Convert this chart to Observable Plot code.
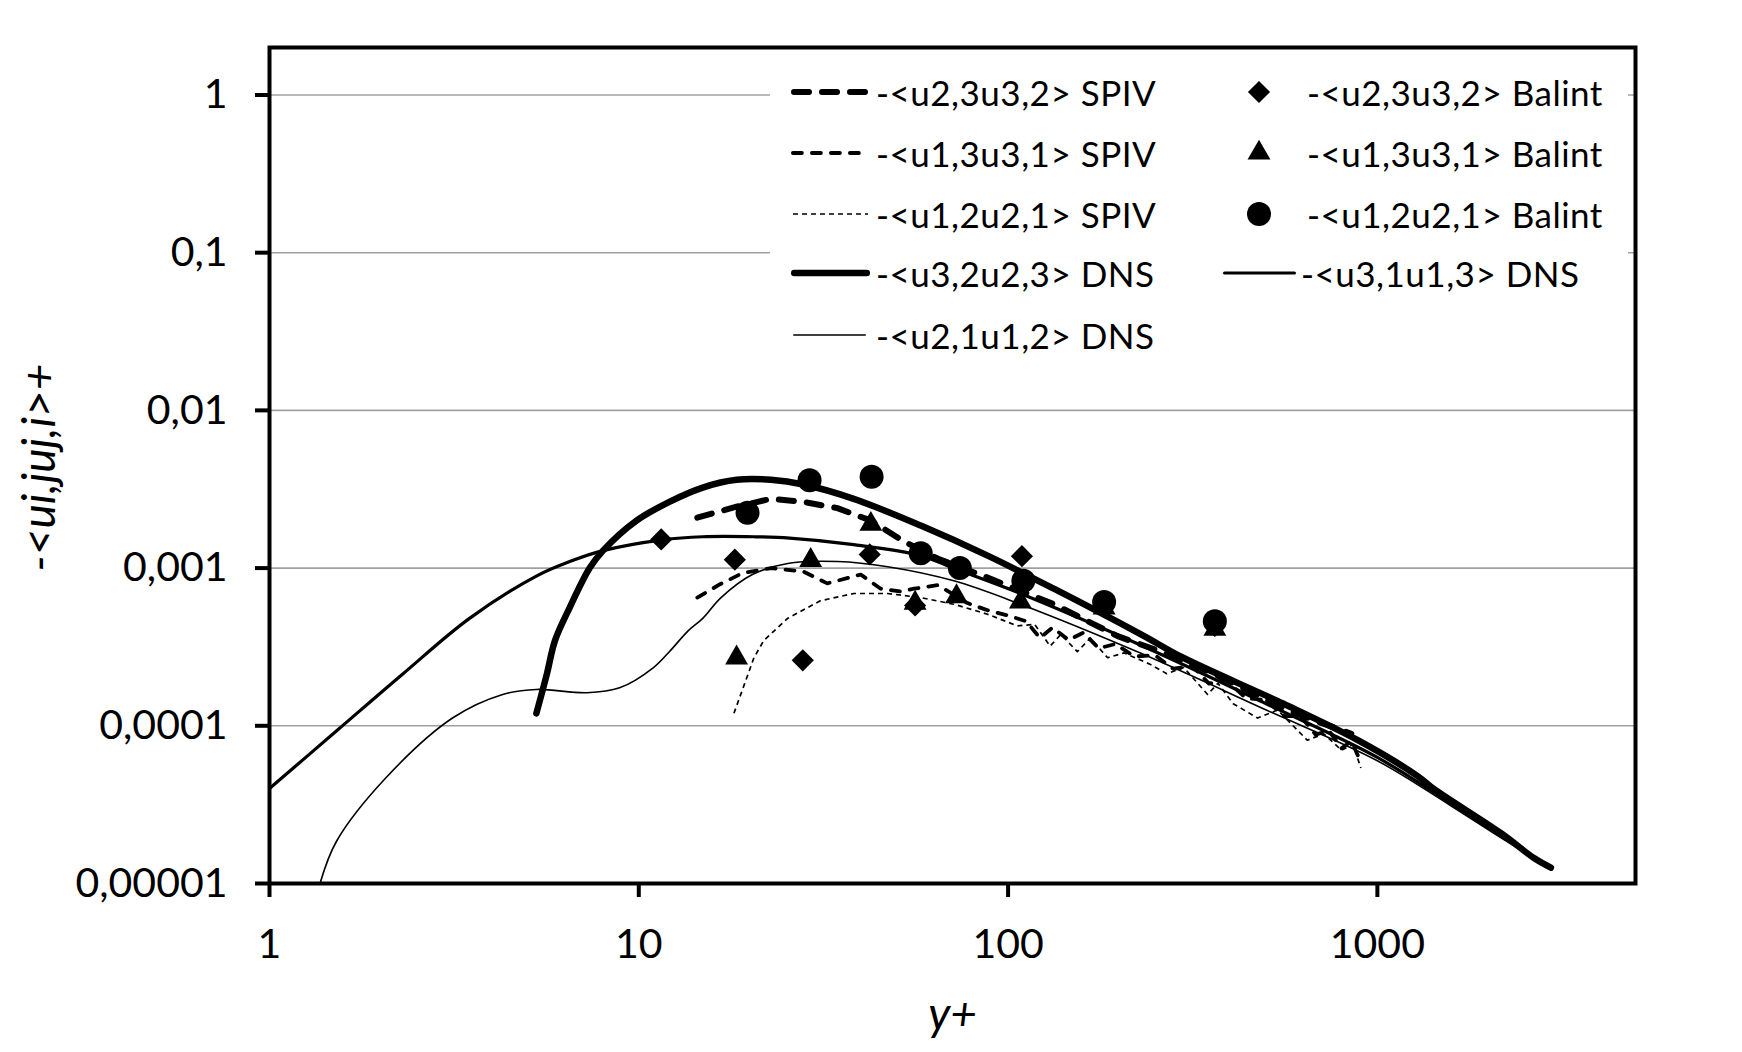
<!DOCTYPE html>
<html><head><meta charset="utf-8">
<script src="https://cdn.jsdelivr.net/npm/d3@7"></script>
<script src="https://cdn.jsdelivr.net/npm/@observablehq/plot@0.6"></script>
<style>
html,body{margin:0;padding:0;background:#fff;overflow:hidden}
#wrap{position:relative;width:1742px;height:1052px}
#legendbox{position:absolute;left:770px;top:62px;width:858px;height:300px;background:#fff}
.item{position:absolute;font-family:Lato,sans-serif;font-size:35px;letter-spacing:0.5px;line-height:1;white-space:nowrap;transform:translateY(-50%);color:#000}
.sample{position:absolute;transform:translateY(-50%)}
</style></head>
<body><div id="wrap"></div>
<script>
// ---- ticks ----
const xTicks = [1, 10, 100, 1000];
const xTickLabels = ["1", "10", "100", "1000"];
const yTicks = [1e-5, 1e-4, 1e-3, 1e-2, 1e-1, 1];
const yTickLabels = ["0,00001", "0,0001", "0,001", "0,01", "0,1", "1"];
const xTitle = "y+";
const yTitle = "-<ui,juj,i>+";

// ---- series: [y+, value] ----
const spivU23 = [[14.4,2.09e-3],[18.4,2.45e-3],[22.8,2.75e-3],[27.9,2.63e-3],[34.5,2.40e-3],[42.5,2.0e-3],[52.1,1.48e-3],[64.4,1.15e-3],[88,8.7e-4],[133,5.9e-4],[198,3.7e-4],[260,2.95e-4],[331,2.34e-4],[420,1.8e-4],[557,1.29e-4],[700,1.05e-4],[850,8.9e-5]];
const spivU13 = [[14.4,6.5e-4],[16.6,7.9e-4],[19.1,9.3e-4],[22.8,1.0e-3],[27.9,9.5e-4],[32.4,8.0e-4],[39.9,9.1e-4],[45.2,7.4e-4],[51.2,7.1e-4],[55.6,7.4e-4],[64.6,7.8e-4],[77.6,6.0e-4],[88,5.4e-4],[100,5.0e-4],[112,4.6e-4],[122,3.6e-4],[132,4.2e-4],[146,3.5e-4],[160,3.9e-4],[176,3.1e-4],[195,3.3e-4],[220,2.75e-4],[250,2.8e-4],[280,2.3e-4],[315,2.4e-4],[350,1.85e-4],[390,1.95e-4],[440,1.5e-4],[500,1.45e-4],[560,1.15e-4],[620,1.15e-4],[680,8.8e-5],[740,9.3e-5],[800,7.2e-5],[850,8.0e-5],[885,6.5e-5]];
const spivU12 = [[18.1,1.2e-4],[20.5,2.7e-4],[21.8,3.47e-4],[25.3,4.8e-4],[31.0,6.2e-4],[38.2,6.9e-4],[47.2,6.9e-4],[58,6.5e-4],[71.3,5.9e-4],[88,5.1e-4],[106,4.3e-4],[118,4.4e-4],[130,3.2e-4],[139,3.8e-4],[154,2.95e-4],[167,3.6e-4],[186,2.7e-4],[206,2.9e-4],[243,2.45e-4],[269,2.14e-4],[299,2.34e-4],[347,1.58e-4],[370,1.86e-4],[407,1.38e-4],[474,1.12e-4],[537,1.26e-4],[646,8.1e-5],[716,8.9e-5],[800,7.0e-5],[860,7.6e-5],[902,5.4e-5]];
const dnsU32 = [[5.28,1.20e-4],[5.64,2.14e-4],[5.93,3.47e-4],[6.50,5.62e-4],[7.36,1.00e-3],[8.0,1.29e-3],[9.86,2.0e-3],[12.1,2.63e-3],[14.9,3.24e-3],[18.4,3.63e-3],[22.8,3.63e-3],[27.9,3.39e-3],[38.2,2.75e-3],[58,1.86e-3],[88,1.20e-3],[133,7.4e-4],[229,3.8e-4],[299,2.69e-4],[557,1.38e-4],[885,8.1e-5],[1285,4.8e-5],[1422,3.98e-5],[2158,2.09e-5],[2655,1.45e-5],[2950,1.26e-5]];
const dnsU31 = [[1,4.0e-5],[1.52,9.3e-5],[2.30,2.14e-4],[3.48,4.8e-4],[5.28,8.9e-4],[6.50,1.10e-3],[8.0,1.29e-3],[11.6,1.51e-3],[14.9,1.58e-3],[20.5,1.58e-3],[25.6,1.55e-3],[38.2,1.41e-3],[58,1.20e-3],[71,1.0e-3],[108,6.9e-4],[229,3.24e-4],[500,1.38e-4],[1000,6.3e-5],[1585,3.2e-5],[2239,1.9e-5],[2950,1.26e-5]];
const dnsU21 = [[1.37,1.0e-5],[1.52,1.86e-5],[2.07,4.7e-5],[3.13,1.12e-4],[4.28,1.58e-4],[5.28,1.70e-4],[7.23,1.62e-4],[8.87,1.74e-4],[10.96,2.34e-4],[12.1,2.95e-4],[13.6,4.0e-4],[14.9,4.8e-4],[16.7,6.5e-4],[20.3,9.1e-4],[25.3,1.07e-3],[34.5,1.10e-3],[47.2,1.02e-3],[71.3,8.3e-4],[108,5.9e-4],[229,2.88e-4],[500,1.26e-4],[1000,6.0e-5],[1585,3.1e-5],[2239,1.85e-5],[2950,1.26e-5]];
const balintU23 = [[11.5,1.52e-3],[18.2,1.13e-3],[27.8,2.6e-4],[42.2,1.22e-3],[56,5.8e-4],[109,1.19e-3],[182,5.9e-4],[363,4.3e-4]];
const balintU13 = [[18.4,2.7e-4],[29.2,1.12e-3],[42.5,1.9e-3],[56,6.0e-4],[72.5,6.6e-4],[108,6.1e-4],[182,5.6e-4],[363,4.1e-4]];
const balintU12 = [[19.7,2.24e-3],[29,3.6e-3],[42.7,3.8e-3],[58,1.24e-3],[74,1.0e-3],[110,8.3e-4],[182,6.1e-4],[363,4.6e-4]];

const labels = {
  spivU23: "-<u2,3u3,2> SPIV", spivU13: "-<u1,3u3,1> SPIV", spivU12: "-<u1,2u2,1> SPIV",
  dnsU32: "-<u3,2u2,3> DNS", dnsU31: "-<u3,1u1,3> DNS", dnsU21: "-<u2,1u1,2> DNS",
  balintU23: "-<u2,3u3,2> Balint", balintU13: "-<u1,3u3,1> Balint", balintU12: "-<u1,2u2,1> Balint"
};

// ---- styles ----
const lineStyles = {
  dnsU32: {strokeWidth: 6.5, dash: null, cap: "round", curve: "catmull-rom"},
  dnsU31: {strokeWidth: 3.2, dash: null, cap: "round", curve: "catmull-rom"},
  dnsU21: {strokeWidth: 1.6, dash: null, cap: "round", curve: "catmull-rom"},
  spivU23: {strokeWidth: 6, dash: "15,13", cap: "round", curve: "linear"},
  spivU13: {strokeWidth: 3.8, dash: "9,10", cap: "round", curve: "linear"},
  spivU12: {strokeWidth: 1.7, dash: "5,4", cap: "butt", curve: "linear"}
};
const series = {spivU23, spivU13, spivU12, dnsU32, dnsU31, dnsU21};
const dotStyles = {
  balintU23: {symbol: "diamond2", r: 10},
  balintU13: {symbol: "triangle", r: 8.5},
  balintU12: {symbol: "circle", r: 12}
};
const dots = {balintU23, balintU13, balintU12};

const lineOrder = ["dnsU21", "dnsU31", "dnsU32", "spivU12", "spivU13", "spivU23"];
const lineMarks = lineOrder.map(k => {
  const s = lineStyles[k];
  return Plot.line(series[k], {
    x: d => d[0], y: d => d[1], stroke: "black", strokeWidth: s.strokeWidth,
    strokeDasharray: s.dash || undefined, strokeLinecap: s.cap, strokeLinejoin: "round",
    curve: s.curve, clip: true
  });
});
const dotMarks = Object.keys(dots).map(k => Plot.dot(dots[k], {
  x: d => d[0], y: d => d[1], symbol: dotStyles[k].symbol, r: dotStyles[k].r, fill: "black", stroke: "none"
}));

const chart = Plot.plot({
  width: 1742, height: 1052,
  marginLeft: 269, marginTop: 47, marginRight: 107, marginBottom: 169,
  x: {type: "log", domain: [1, 5000]},
  y: {type: "log", domain: [1e-5, 2]},
  style: {fontFamily: "Lato, sans-serif", background: "white", color: "black"},
  marks: [
    Plot.ruleY(yTicks, {stroke: "#a0a0a0", strokeWidth: 1.6}),
    ...lineMarks,
    ...dotMarks,
    Plot.frame({stroke: "black", strokeWidth: 4}),
    Plot.axisX({ticks: xTicks, tickFormat: d => xTickLabels[xTicks.indexOf(d)], tickSize: 14, tickPadding: 31, fontSize: 41, strokeWidth: 4, label: null}),
    Plot.axisY({ticks: yTicks, tickFormat: d => yTickLabels[yTicks.indexOf(d)], tickSize: 14, tickPadding: 28, fontSize: 41, strokeWidth: 4, label: null}),
    Plot.text([xTitle], {text: d => d, frameAnchor: "bottom", dy: 146, fontSize: 46, fontStyle: "italic"}),
    Plot.text([yTitle], {text: d => d, frameAnchor: "left", textAnchor: "middle", dx: -229, dy: 2, rotate: -90, fontSize: 46, fontStyle: "italic"})
  ]
});
const wrap = document.getElementById("wrap");
wrap.appendChild(chart);

// ---- legend (HTML overlay) ----
const box = document.createElement("div"); box.id = "legendbox"; wrap.appendChild(box);
const rowsY = [92, 153, 214, 273, 335];
const legendItems = [
  {key: "spivU23", kind: "line", row: 0, x0: 791, x1: 870, tx: 876},
  {key: "spivU13", kind: "line", row: 1, x0: 791, x1: 870, tx: 876},
  {key: "spivU12", kind: "line", row: 2, x0: 793, x1: 868, tx: 876},
  {key: "dnsU32", kind: "line", row: 3, x0: 791, x1: 870, tx: 876},
  {key: "dnsU21", kind: "line", row: 4, x0: 793, x1: 866, tx: 876},
  {key: "balintU23", kind: "dot", row: 0, cx: 1259, tx: 1307},
  {key: "balintU13", kind: "dot", row: 1, cx: 1259, tx: 1307},
  {key: "balintU12", kind: "dot", row: 2, cx: 1259, tx: 1307},
  {key: "dnsU31", kind: "line", row: 3, x0: 1223, x1: 1296, tx: 1301}
];
const NS = "http://www.w3.org/2000/svg";
legendItems.forEach(it => {
  const y = rowsY[it.row];
  const svg = document.createElementNS(NS, "svg");
  svg.setAttribute("class", "sample");
  if (it.kind === "line") {
    const s = lineStyles[it.key];
    const w = it.x1 - it.x0;
    svg.setAttribute("width", w); svg.setAttribute("height", 12);
    svg.style.left = it.x0 + "px"; svg.style.top = y + "px";
    const ln = document.createElementNS(NS, "line");
    const pad = s.cap === "round" ? s.strokeWidth / 2 : 0;
    ln.setAttribute("x1", pad); ln.setAttribute("x2", w - pad);
    ln.setAttribute("y1", 6); ln.setAttribute("y2", 6);
    ln.setAttribute("stroke", "black"); ln.setAttribute("stroke-width", s.strokeWidth);
    ln.setAttribute("stroke-linecap", s.cap);
    if (s.dash) ln.setAttribute("stroke-dasharray", s.dash);
    svg.appendChild(ln);
  } else {
    const st = dotStyles[it.key];
    svg.setAttribute("width", 30); svg.setAttribute("height", 30);
    svg.style.left = (it.cx - 15) + "px"; svg.style.top = y + "px";
    const symMap = {circle: d3.symbolCircle, triangle: d3.symbolTriangle, diamond2: d3.symbolDiamond2};
    const p = document.createElementNS(NS, "path");
    p.setAttribute("d", d3.symbol(symMap[st.symbol], Math.PI * st.r * st.r)());
    p.setAttribute("transform", "translate(15,15)");
    p.setAttribute("fill", "black");
    svg.appendChild(p);
  }
  wrap.appendChild(svg);
  const t = document.createElement("div");
  t.className = "item"; t.textContent = labels[it.key];
  t.style.left = it.tx + "px"; t.style.top = y + "px";
  wrap.appendChild(t);
});
</script></body></html>
